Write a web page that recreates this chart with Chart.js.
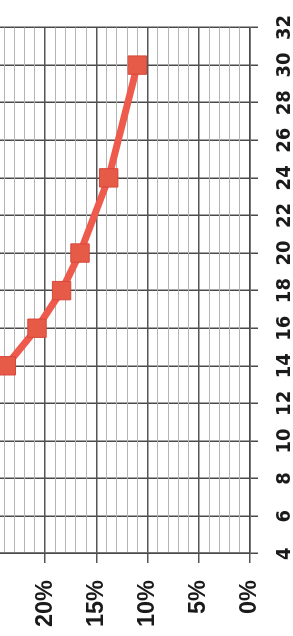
<!DOCTYPE html>
<html>
<head>
<meta charset="utf-8">
<script src="https://cdn.jsdelivr.net/npm/chart.js@4"></script>
<style>
  html, body { margin: 0; padding: 0; width: 293px; height: 636px; overflow: hidden; background: #fff; }
  #wrap { position: absolute; left: 0; top: 0; width: 636px; height: 400px;
          transform-origin: 0 0; transform: translate(-107px, 636px) rotate(-90deg); }
</style>
</head>
<body>
<div id="wrap"><canvas id="c" width="636" height="400"></canvas></div>
<script>
// Data read from the (rotated) reference chart
const categories = [14, 16, 18, 20, 24, 30];
const percentValues = [23.8, 20.8, 18.4, 16.6, 13.8, 11.0];
const xTicks = [4, 6, 8, 10, 12, 14, 16, 18, 20, 22, 24, 26, 28, 30, 32];
const yLabelStep = 5;

const points = categories.map((c, i) => ({ x: c, y: percentValues[i] }));

new Chart(document.getElementById('c'), {
  type: 'line',
  data: {
    datasets: [{
      data: points,
      borderColor: '#EE5A4C',
      borderWidth: 7,
      tension: 0,
      pointStyle: 'rect',
      pointRadius: 13,
      pointHoverRadius: 13,
      pointBackgroundColor: '#E65A48',
      pointBorderColor: '#D8473A',
      pointBorderWidth: 1
    }]
  },
  options: {
    responsive: false,
    animation: false,
    events: [],
    layout: { padding: { top: 49.8, left: 0, right: 16.7, bottom: 0 } },
    plugins: { legend: { display: false }, tooltip: { enabled: false } },
    scales: {
      x: {
        type: 'linear',
        min: xTicks[0],
        max: xTicks[xTicks.length - 1],
        afterBuildTicks: s => { s.ticks = xTicks.map(v => ({ value: v })); },
        afterFit: s => { s.height = 43; },
        ticks: {
          autoSkip: false, maxRotation: 0, padding: 15,
          color: '#1a1a1a',
          font: { family: "'Liberation Sans Narrow', 'DejaVu Sans Condensed', 'Liberation Sans', sans-serif", size: 20, weight: 'bold' }
        },
        grid: { color: '#4a4a4a', lineWidth: 1.5, tickLength: 8, tickColor: '#4a4a4a' },
        border: { color: '#4a4a4a', width: 1.5 }
      },
      y: {
        type: 'linear',
        min: 0,
        max: 30,
        afterFit: s => { s.width = 82.3; },
        ticks: {
          stepSize: 1, autoSkip: false, padding: 17,
          color: '#1a1a1a',
          font: { family: "'Liberation Sans', Arial, sans-serif", size: 23.5, weight: 'bold' },
          callback: v => (v % yLabelStep === 0 ? v + '%' : '')
        },
        grid: {
          color: ctx => (ctx.tick && ctx.tick.value % yLabelStep === 0 ? '#555555' : '#b4b4b4'),
          lineWidth: ctx => (ctx.tick && ctx.tick.value % yLabelStep === 0 ? 1.5 : 1),
          tickLength: 9.3,
          tickColor: ctx => (ctx.tick && ctx.tick.value % yLabelStep === 0 ? '#555555' : 'rgba(0,0,0,0)')
        },
        border: { color: '#4a4a4a', width: 1.5 }
      }
    }
  }
});
</script>
</body>
</html>
